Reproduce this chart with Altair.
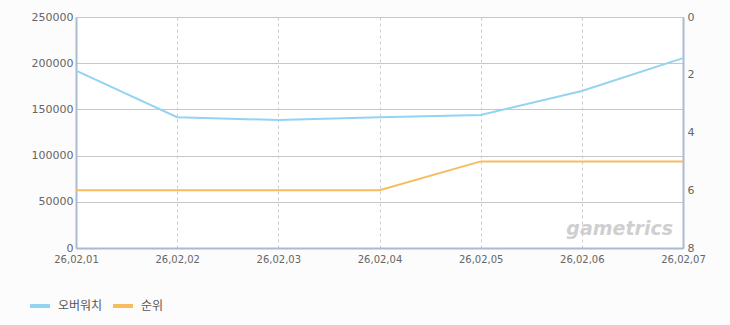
import altair as alt
import pandas as pd

dates = ["26,02,01", "26,02,02", "26,02,03", "26,02,04", "26,02,05", "26,02,06", "26,02,07"]
overwatch = [192000, 141500, 138500, 141500, 144000, 170000, 205500]
rank = [6, 6, 6, 6, 5, 5, 5]
series_names = ["오버워치", "순위"]
colors = ["#94d3f2", "#f8bc5e"]

df1 = pd.DataFrame({"date": dates, "value": overwatch, "series": series_names[0]})
df2 = pd.DataFrame({"date": dates, "rank": rank, "series": series_names[1]})

FONT = "DejaVu Sans"
xenc = alt.X("date:O", sort=dates, title=None,
             scale=alt.Scale(type="point", padding=0),
             axis=alt.Axis(labelAngle=0, labelFont=FONT, labelFontSize=10, labelColor="#666",
                           ticks=False, labelPadding=6, domainColor="#a8bbd0", domainWidth=2,
                           grid=True, gridDash=[3, 3], gridColor="#cccccc"))
color = alt.Color("series:N", scale=alt.Scale(domain=series_names, range=colors),
                  legend=alt.Legend(title=None, orient="none", legendX=-48, legendY=277,
                                    direction="horizontal", symbolType="stroke",
                                    symbolStrokeWidth=4, symbolSize=400, labelFont="Noto Sans CJK KR",
                                    labelFontSize=12, labelColor="#555", columnPadding=2,
                                    labelOffset=6))

l1 = alt.Chart(df1).mark_line(strokeWidth=2).encode(
    x=xenc,
    y=alt.Y("value:Q", title=None, scale=alt.Scale(domain=[0, 250000]),
            axis=alt.Axis(values=[0, 50000, 100000, 150000, 200000, 250000], format="d",
                          labelFont=FONT, labelFontSize=11, labelColor="#666", ticks=False,
                          labelPadding=3, domainColor="#a8bbd0", domainWidth=2,
                          grid=True, gridColor="#c8c8c8")),
    color=color,
)
l2 = alt.Chart(df2).mark_line(strokeWidth=2).encode(
    x=xenc,
    y=alt.Y("rank:Q", title=None, scale=alt.Scale(domain=[0, 8], reverse=True),
            axis=alt.Axis(orient="right", values=[0, 2, 4, 6, 8], labelFont=FONT, labelFontSize=11,
                          labelColor="#666", ticks=False, labelPadding=4, domainColor="#a8bbd0",
                          domainWidth=2, grid=False)),
    color=color,
)
wm = alt.Chart(pd.DataFrame({"t": ["gametrics"]})).mark_text(
    align="right", baseline="alphabetic", font="DejaVu Sans", fontSize=19, fontStyle="italic",
    fontWeight="bold", color="#cfcfcf").encode(
    text="t:N", x=alt.value(597), y=alt.value(218))

chart = alt.layer(l1, l2, wm).resolve_scale(y="independent").properties(
    width=607, height=231, background="#fcfcfc",
    padding={"left": 76, "top": 17, "right": 47, "bottom": 77},
    autosize=alt.AutoSizeParams(type="none"),
).configure_view(stroke="#b8c8d8", strokeWidth=1, fill="#ffffff")

chart.save("out.html", embed_options={"renderer": "svg", "actions": False})
